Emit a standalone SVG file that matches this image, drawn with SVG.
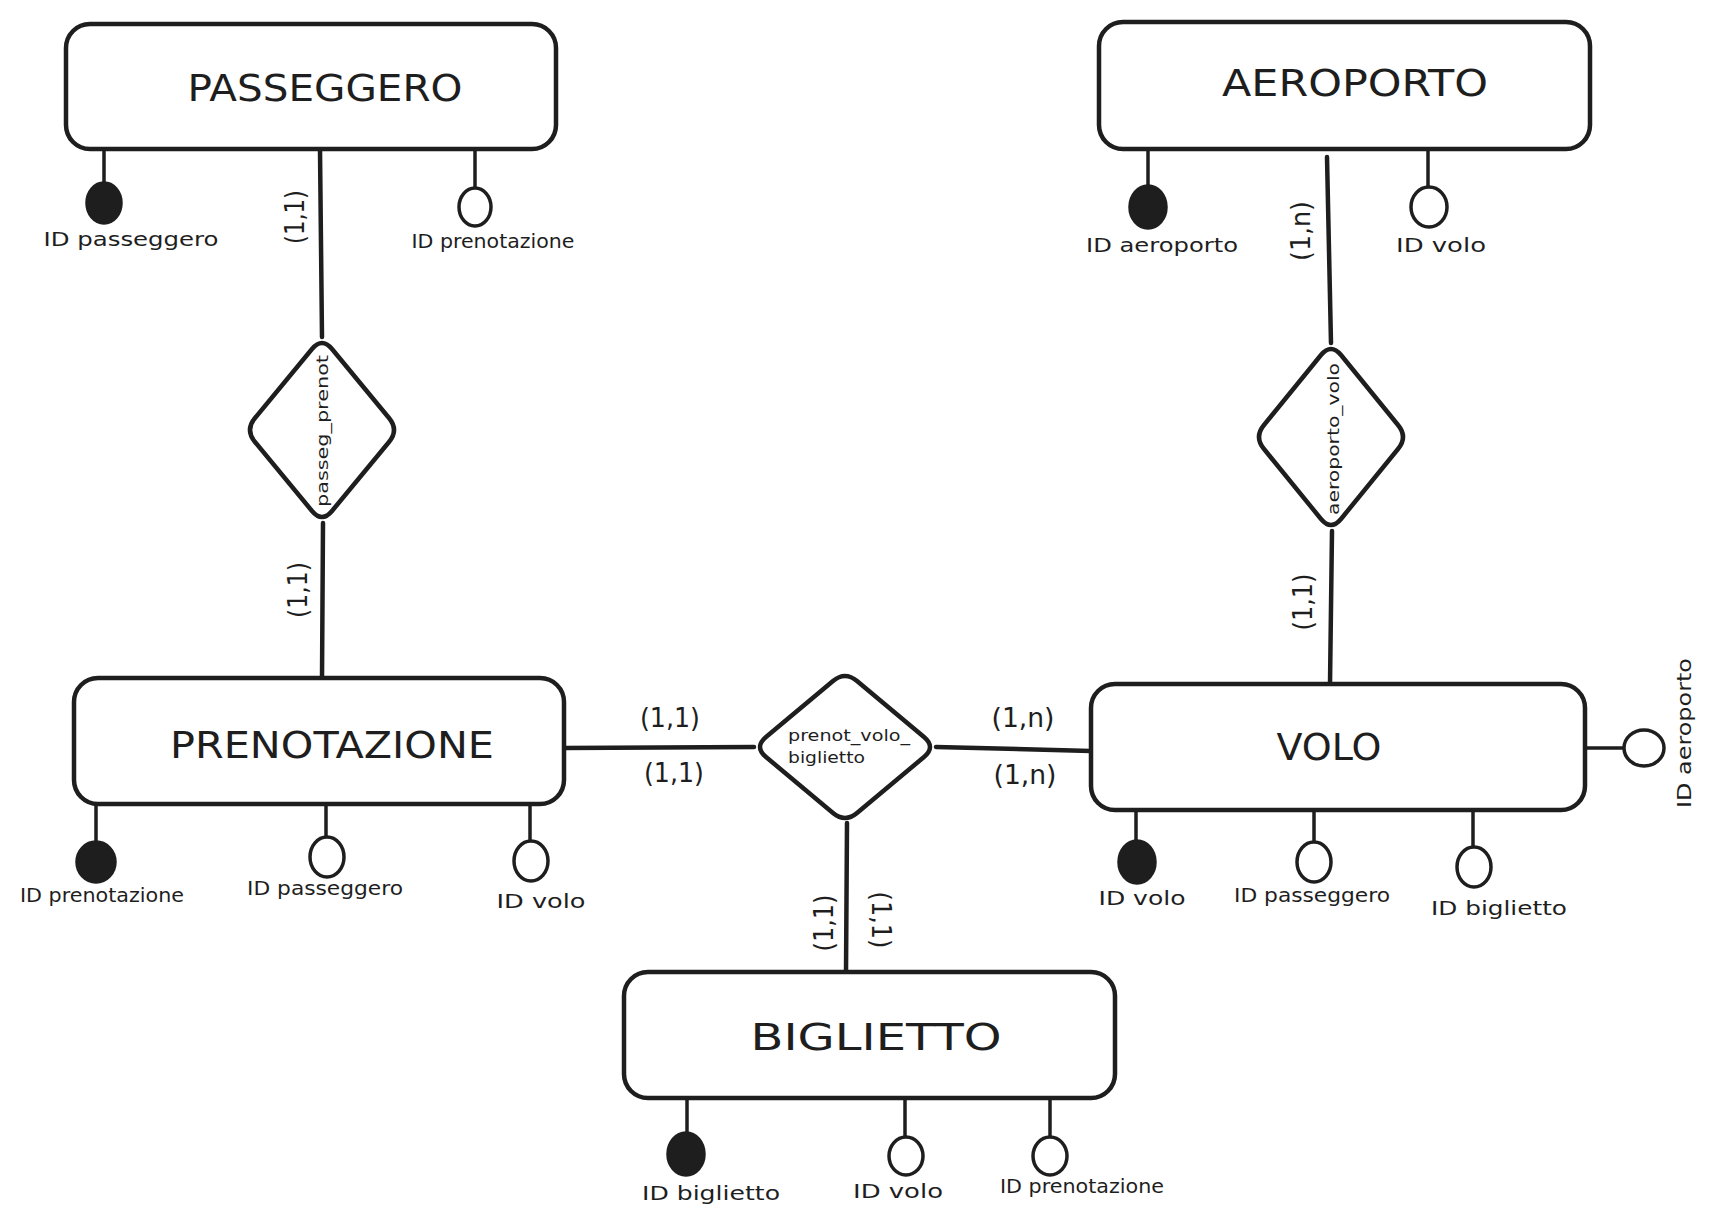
<svg xmlns="http://www.w3.org/2000/svg" width="1716" height="1230" viewBox="0 0 1716 1230">
<style>
  .box { fill: #ffffff; stroke: #1e1e1e; stroke-width: 4.5; }
  .rel { fill: #ffffff; stroke: #1e1e1e; stroke-width: 4.5; stroke-linejoin: round; }
  .ln { stroke: #1e1e1e; stroke-width: 4.5; fill: none; stroke-linecap: round; }
  .stem { stroke: #1e1e1e; stroke-width: 3.5; fill: none; stroke-linecap: round; }
  .key { fill: #1e1e1e; stroke: #1e1e1e; stroke-width: 3.5; }
  .att { fill: #ffffff; stroke: #1e1e1e; stroke-width: 3.5; }
  .title { font-family: "DejaVu Sans", "Liberation Sans", sans-serif; font-size: 37px; fill: #1e1e1e; text-anchor: middle; dominant-baseline: central; }
  .lbl { font-family: "DejaVu Sans", "Liberation Sans", sans-serif; font-size: 19px; fill: #1e1e1e; text-anchor: middle; }
  .card { font-family: "DejaVu Sans", "Liberation Sans", sans-serif; font-size: 26px; fill: #1e1e1e; text-anchor: middle; dominant-baseline: central; }
  .rtxt { font-family: "DejaVu Sans", "Liberation Sans", sans-serif; font-size: 16px; fill: #1e1e1e; }
</style>

<g id="connectors">
  <line class="ln" x1="320" y1="150" x2="322" y2="337"/>
  <line class="ln" x1="323" y1="523" x2="322" y2="678"/>
  <line class="ln" x1="564" y1="748" x2="754" y2="747"/>
  <line class="ln" x1="936" y1="747" x2="1091" y2="751"/>
  <line class="ln" x1="847" y1="823" x2="846" y2="972"/>
  <line class="ln" x1="1327" y1="157" x2="1331" y2="343"/>
  <line class="ln" x1="1332" y1="531" x2="1330" y2="684"/>
  <!-- attribute stems -->
  <line class="stem" x1="104" y1="148" x2="104" y2="183"/>
  <line class="stem" x1="475" y1="150" x2="475" y2="188"/>
  <line class="stem" x1="96" y1="804" x2="96" y2="842"/>
  <line class="stem" x1="326" y1="804" x2="326" y2="837"/>
  <line class="stem" x1="530" y1="804" x2="530" y2="841"/>
  <line class="stem" x1="1148" y1="151" x2="1148" y2="186"/>
  <line class="stem" x1="1428" y1="148" x2="1428" y2="187"/>
  <line class="stem" x1="1136" y1="809" x2="1136" y2="841"/>
  <line class="stem" x1="1314" y1="809" x2="1314" y2="842"/>
  <line class="stem" x1="1473" y1="809" x2="1473" y2="848"/>
  <line class="stem" x1="1585" y1="748" x2="1624" y2="748"/>
  <line class="stem" x1="687" y1="1098" x2="687" y2="1133"/>
  <line class="stem" x1="905" y1="1098" x2="905" y2="1137"/>
  <line class="stem" x1="1050" y1="1098" x2="1050" y2="1137"/>
  <!-- cardinalities -->
  <text class="card" transform="translate(295,217) rotate(-90)" textLength="54" lengthAdjust="spacingAndGlyphs">(1,1)</text>
  <text class="card" transform="translate(298,590) rotate(-90)" textLength="56" lengthAdjust="spacingAndGlyphs">(1,1)</text>
  <text class="card" transform="translate(1301,231) rotate(-90)" textLength="60" lengthAdjust="spacingAndGlyphs">(1,n)</text>
  <text class="card" transform="translate(1303,602) rotate(-90)" textLength="57" lengthAdjust="spacingAndGlyphs">(1,1)</text>
  <text class="card" transform="translate(824,923) rotate(-90)" textLength="57" lengthAdjust="spacingAndGlyphs">(1,1)</text>
  <text class="card" transform="translate(881,920) rotate(90)" textLength="57" lengthAdjust="spacingAndGlyphs">(1,1)</text>
  <text class="card" x="670" y="718" textLength="60" lengthAdjust="spacingAndGlyphs">(1,1)</text>
  <text class="card" x="674" y="773" textLength="60" lengthAdjust="spacingAndGlyphs">(1,1)</text>
  <text class="card" x="1023" y="718" textLength="63" lengthAdjust="spacingAndGlyphs">(1,n)</text>
  <text class="card" x="1025" y="775" textLength="63" lengthAdjust="spacingAndGlyphs">(1,n)</text>
</g>

<g id="PASSEGGERO">
  <rect class="box" x="66" y="24" width="490" height="125" rx="24"/>
  <text class="title" x="325" y="88" textLength="275" lengthAdjust="spacingAndGlyphs">PASSEGGERO</text>
</g>
<g id="PASSEGGERO-ID-passeggero">
  <ellipse class="key" cx="104" cy="203" rx="17" ry="20"/>
  <text class="lbl" x="131" y="246" textLength="175" lengthAdjust="spacingAndGlyphs">ID passeggero</text>
</g>
<g id="PASSEGGERO-ID-prenotazione">
  <ellipse class="att" cx="475" cy="207" rx="16" ry="19"/>
  <text class="lbl" x="493" y="248" font-size="17" textLength="163" lengthAdjust="spacingAndGlyphs">ID prenotazione</text>
</g>

<g id="passeg_prenot">
  <path class="rel" d="M332 349 L389 418 Q399 430 389 442 L332 511 Q322 523 312 511 L255 442 Q245 430 255 418 L312 349 Q322 337 332 349 Z"/>
  <text class="rtxt" text-anchor="middle" dominant-baseline="central" transform="translate(322,431) rotate(-90)" textLength="152" lengthAdjust="spacingAndGlyphs">passeg_prenot</text>
</g>

<g id="PRENOTAZIONE">
  <rect class="box" x="74" y="678" width="490" height="126" rx="24"/>
  <text class="title" x="332" y="745" textLength="324" lengthAdjust="spacingAndGlyphs">PRENOTAZIONE</text>
</g>
<g id="PRENOTAZIONE-ID-prenotazione">
  <ellipse class="key" cx="96" cy="862" rx="19" ry="20"/>
  <text class="lbl" x="102" y="902" textLength="164" lengthAdjust="spacingAndGlyphs">ID prenotazione</text>
</g>
<g id="PRENOTAZIONE-ID-passeggero">
  <ellipse class="att" cx="327" cy="857" rx="17" ry="20"/>
  <text class="lbl" x="325" y="895" textLength="156" lengthAdjust="spacingAndGlyphs">ID passeggero</text>
</g>
<g id="PRENOTAZIONE-ID-volo">
  <ellipse class="att" cx="531" cy="861" rx="17" ry="20"/>
  <text class="lbl" x="541" y="908" font-size="21" textLength="89" lengthAdjust="spacingAndGlyphs">ID volo</text>
</g>

<g id="prenot_volo_biglietto">
  <path class="rel" d="M857 681 L924 737 Q936 747 924 757 L857 813 Q845 823 833 813 L766 757 Q754 747 766 737 L833 681 Q845 671 857 681 Z"/>
  <text class="rtxt" x="788" y="741" textLength="122" lengthAdjust="spacingAndGlyphs">prenot_volo_</text>
  <text class="rtxt" x="788" y="763" textLength="77" lengthAdjust="spacingAndGlyphs">biglietto</text>
</g>

<g id="AEROPORTO">
  <rect class="box" x="1099" y="22" width="491" height="127" rx="24"/>
  <text class="title" x="1355" y="83" textLength="266" lengthAdjust="spacingAndGlyphs">AEROPORTO</text>
</g>
<g id="AEROPORTO-ID-aeroporto">
  <ellipse class="key" cx="1148" cy="207" rx="18" ry="21"/>
  <text class="lbl" x="1162" y="252" font-size="20" textLength="152" lengthAdjust="spacingAndGlyphs">ID aeroporto</text>
</g>
<g id="AEROPORTO-ID-volo">
  <ellipse class="att" cx="1429" cy="207" rx="18" ry="20"/>
  <text class="lbl" x="1441" y="252" font-size="21" textLength="90" lengthAdjust="spacingAndGlyphs">ID volo</text>
</g>

<g id="aeroporto_volo">
  <path class="rel" d="M1341 355 L1398 425 Q1408 437 1398 449 L1341 519 Q1331 531 1321 519 L1264 449 Q1254 437 1264 425 L1321 355 Q1331 343 1341 355 Z"/>
  <text class="rtxt" text-anchor="middle" dominant-baseline="central" transform="translate(1333,439) rotate(-90)" textLength="152" lengthAdjust="spacingAndGlyphs">aeroporto_volo</text>
</g>

<g id="VOLO">
  <rect class="box" x="1091" y="684" width="494" height="126" rx="24"/>
  <text class="title" x="1329" y="747" textLength="105" lengthAdjust="spacingAndGlyphs">VOLO</text>
</g>
<g id="VOLO-ID-volo">
  <ellipse class="key" cx="1137" cy="862" rx="18" ry="21"/>
  <text class="lbl" x="1142" y="905" font-size="21" textLength="87" lengthAdjust="spacingAndGlyphs">ID volo</text>
</g>
<g id="VOLO-ID-passeggero">
  <ellipse class="att" cx="1314" cy="862" rx="17" ry="20"/>
  <text class="lbl" x="1312" y="902" textLength="156" lengthAdjust="spacingAndGlyphs">ID passeggero</text>
</g>
<g id="VOLO-ID-biglietto">
  <ellipse class="att" cx="1474" cy="867" rx="17" ry="20"/>
  <text class="lbl" x="1499" y="915" font-size="21" textLength="136" lengthAdjust="spacingAndGlyphs">ID biglietto</text>
</g>
<g id="VOLO-ID-aeroporto">
  <ellipse class="att" cx="1644" cy="748" rx="20" ry="18"/>
  <text class="lbl" dominant-baseline="central" font-size="20" transform="translate(1684,733) rotate(-90)" textLength="150" lengthAdjust="spacingAndGlyphs">ID aeroporto</text>
</g>

<g id="BIGLIETTO">
  <rect class="box" x="624" y="972" width="491" height="126" rx="24"/>
  <text class="title" x="876" y="1037" textLength="251" lengthAdjust="spacingAndGlyphs">BIGLIETTO</text>
</g>
<g id="BIGLIETTO-ID-biglietto">
  <ellipse class="key" cx="686" cy="1154" rx="18" ry="21"/>
  <text class="lbl" x="711" y="1200" font-size="21" textLength="138" lengthAdjust="spacingAndGlyphs">ID biglietto</text>
</g>
<g id="BIGLIETTO-ID-volo">
  <ellipse class="att" cx="906" cy="1156" rx="17" ry="19"/>
  <text class="lbl" x="898" y="1198" font-size="21" textLength="90" lengthAdjust="spacingAndGlyphs">ID volo</text>
</g>
<g id="BIGLIETTO-ID-prenotazione">
  <ellipse class="att" cx="1050" cy="1156" rx="17" ry="19"/>
  <text class="lbl" x="1082" y="1193" textLength="164" lengthAdjust="spacingAndGlyphs">ID prenotazione</text>
</g>
</svg>
